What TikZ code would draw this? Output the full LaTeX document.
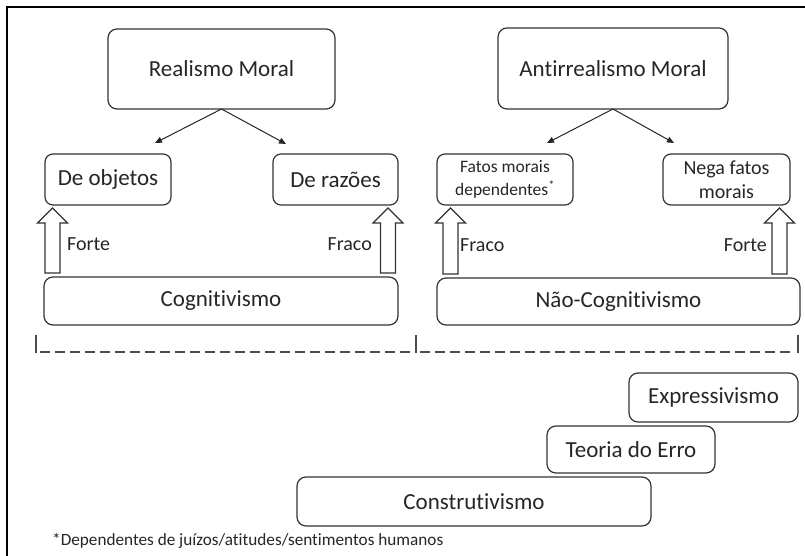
\documentclass[tikz,border=0pt]{standalone}
\usepackage{fontspec}
\setmainfont[Ligatures=NoCommon,RawFeature={-liga;-dlig;-clig}]{Carlito}
\usetikzlibrary{calc,arrows.meta}
\newcommand\blockarr[3]{% #1 centre x, #2 lower node, #3 upper node
  \coordinate (ba-t) at ($(#1,0 |- #3.south)+(0,3)$);
  \coordinate (ba-b) at ($(#1,0 |- #2.north)+(0,-4)$);
  \draw[blockarrow] ($(ba-b)+(-7.5,0)$) -- ($(ba-t)+(-7.5,15)$) -- ($(ba-t)+(-15,15)$) -- (ba-t)
     -- ($(ba-t)+(15,15)$) -- ($(ba-t)+(7.5,15)$) -- ($(ba-b)+(7.5,0)$) -- cycle;
}
\begin{document}
\begin{tikzpicture}[x=1pt,y=-1pt,
  box/.style={draw=black!80, line width=1.2pt, rounded corners=9pt, inner sep=0pt, outer sep=0pt,
    text=black!85, font=\fontsize{23}{27}\selectfont, align=center},
  smallbox/.style={box, rounded corners=8pt},
  lbl/.style={text=black!85, font=\fontsize{20}{24}\selectfont, inner sep=0pt},
  thinarrow/.style={draw=black!85, line width=1pt, -{Triangle[length=7pt,width=6pt]}},
  blockarrow/.style={draw=black!80, line width=1.2pt, fill=white, line join=miter},
  dashline/.style={draw=black!70, line width=1.3pt}
]
\useasboundingbox (0,0) rectangle (805,556);
% frame
\draw[line width=1.5pt] (7,556) -- (7,7) -- (805,7);

% top boxes
\node[box, minimum width=227pt, minimum height=80pt] (rm) at (221.5,69) {Realismo Moral};
\node[box, minimum width=230pt, minimum height=81pt] (am) at (613,68.5) {Antirrealismo Moral};

% second row
\node[smallbox, minimum width=126pt, minimum height=51pt] (obj) at (108,179.5) {De objetos};
\node[smallbox, minimum width=125pt, minimum height=51pt] (raz) at (335.5,179.5) {De razões};
\node[smallbox, minimum width=136pt, minimum height=51pt, font=\fontsize{17.5}{23}\selectfont] (fmd) at (505,179.5) {Fatos morais\\dependentes\textsuperscript{*}};
\node[smallbox, minimum width=127pt, minimum height=51pt, font=\fontsize{20}{24}\selectfont] (nfm) at (726.5,179.5) {Nega fatos\\morais};

% thin arrows
\coordinate (e1) at (155,143);
\coordinate (e2) at (286,144);
\coordinate (e3) at (547,143);
\coordinate (e4) at (674,143);
\draw[thinarrow] (rm.south) -- (e1);
\draw[thinarrow] (rm.south) -- (e2);
\draw[thinarrow] (am.south) -- (e3);
\draw[thinarrow] (am.south) -- (e4);

% wide boxes
\node[box, minimum width=354pt, minimum height=48pt] (cog) at (221,301) {Cognitivismo};
\node[box, minimum width=363pt, minimum height=47pt] (ncog) at (618.5,301.5) {Não-Cognitivismo};

% block arrows
\blockarr{52.5}{cog}{obj}
\blockarr{388}{cog}{raz}
\blockarr{450.5}{ncog}{fmd}
\blockarr{779.5}{ncog}{nfm}

\node[lbl, anchor=west] (l1) at (67,244) {Forte};
\node[lbl, anchor=east] (l2) at (372,244) {Fraco};
\node[lbl, anchor=west] (l3) at (460,245) {Fraco};
\node[lbl, anchor=east] (l4) at (767,245) {Forte};

% dashed bracket
\draw[dashline] (36,335) -- (36,353);
\draw[dashline] (416,335) -- (416,353);
\draw[dashline] (798,335) -- (798,353);
\draw[dashline, dash pattern=on 10pt off 5pt] (40,352) -- (412,352);
\draw[dashline, dash pattern=on 10pt off 5pt] (420,352) -- (794,352);

% staircase
\node[box, minimum width=169pt, minimum height=49pt] (exp) at (713.5,397.5) {Expressivismo};
\node[box, minimum width=168pt, minimum height=47pt] (ter) at (631,449.5) {Teoria do Erro};
\node[box, minimum width=354pt, minimum height=49pt] (con) at (474,501.5) {Construtivismo};

% footnote
\node[lbl, anchor=west, font=\fontsize{17.2}{20}\selectfont] (fn) at (52,541) {*Dependentes de juízos/atitudes/sentimentos humanos};
\end{tikzpicture}
\end{document}
